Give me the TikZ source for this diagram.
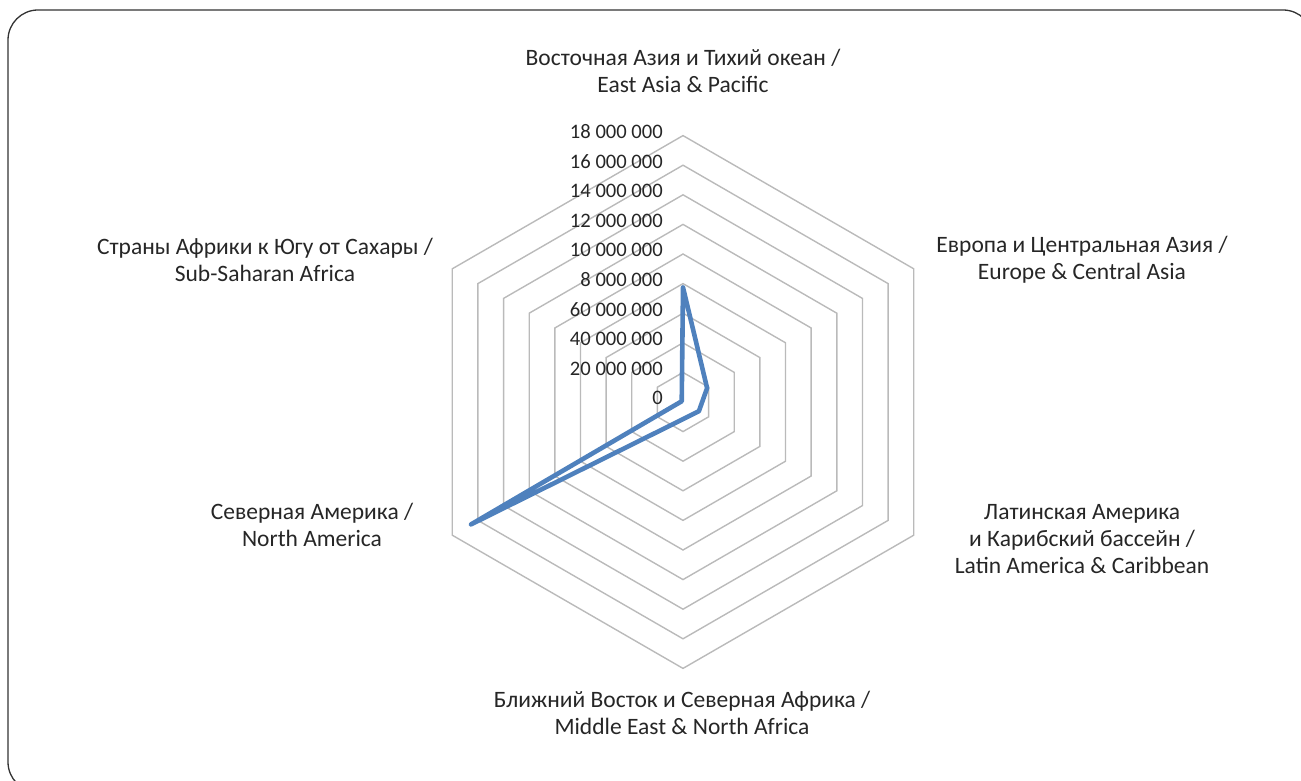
\documentclass[tikz,border=0pt]{standalone}
\usepackage{fontspec}
\setmainfont{Carlito}
\definecolor{seriesblue}{HTML}{4F81BD}
\definecolor{textgray}{HTML}{262626}
\begin{document}
\begin{tikzpicture}
[x=1pt,y=1pt,
  framedecorate/.style={draw=black!80,line width=1.3pt,rounded corners=30pt},%
  ringdecorate/.style={draw=black!27,line width=1.4pt,line join=miter},%
  seriesdecorate/.style={draw=seriesblue,line width=4.6pt,line join=round,line cap=round},%
  axislabel/.style={align=center,font=\fontsize{23.5}{27}\selectfont,text=textgray,inner sep=0pt},%
  ticklabel/.style={anchor=east,font=\fontsize{20.6}{24}\selectfont,text=textgray,inner sep=0pt}]
\useasboundingbox (0,0) rectangle (1301,780);
%% frame
\draw[framedecorate] (8,-12) rectangle (1313,770);
%% rings and data
\begin{scope}[shift={(683,378)}]
\foreach \k in {1,...,9} {
  \draw[ringdecorate] (90:{\k*29.6}) -- (30:{\k*29.6}) -- (-30:{\k*29.6})
    -- (-90:{\k*29.6}) -- (210:{\k*29.6}) -- (150:{\k*29.6}) -- cycle;
}
\foreach \k/\txt in {0/0, 1/20 000 000, 2/40 000 000, 3/60 000 000, 4/8 000 000,
  5/10 000 000, 6/12 000 000, 7/14 000 000, 8/16 000 000, 9/18 000 000} {
  \node (tick\k) at (-20,{\k*29.6+4}) [ticklabel] {\txt};
}
\foreach \pname/\ang/\val in {ea/90/3.87, eca/30/0.94, lac/-30/0.62,
  mena/-90/0.58, na/210/8.27, ssa/150/0.05} {
  \coordinate (\pname) at (\ang:{\val*29.6});
}
\end{scope}
\draw[seriesdecorate] (ea) -- (eca) -- (lac) -- (mena) -- (na) -- (ssa) -- cycle;
%% category labels
\node (eaname) at (683,709) [axislabel] {Восточная Азия и Тихий океан /\\East Asia \& Pacific};
\node (ecaname) at (1082,520) [axislabel] {Европа и Центральная Азия /\\Europe \& Central Asia};
\node (lacname) at (1082,241) [axislabel] {Латинская Америка\\и Карибский бассейн /\\Latin America \& Caribbean};
\node (menaname) at (682,67) [axislabel] {Ближний Восток и Северная Африка /\\Middle East \& North Africa};
\node (naname) at (312,255) [axislabel] {Северная Америка /\\North America};
\node (ssaname) at (265,520) [axislabel] {Страны Африки к Югу от Сахары /\\Sub-Saharan Africa};
\end{tikzpicture}
\end{document}
